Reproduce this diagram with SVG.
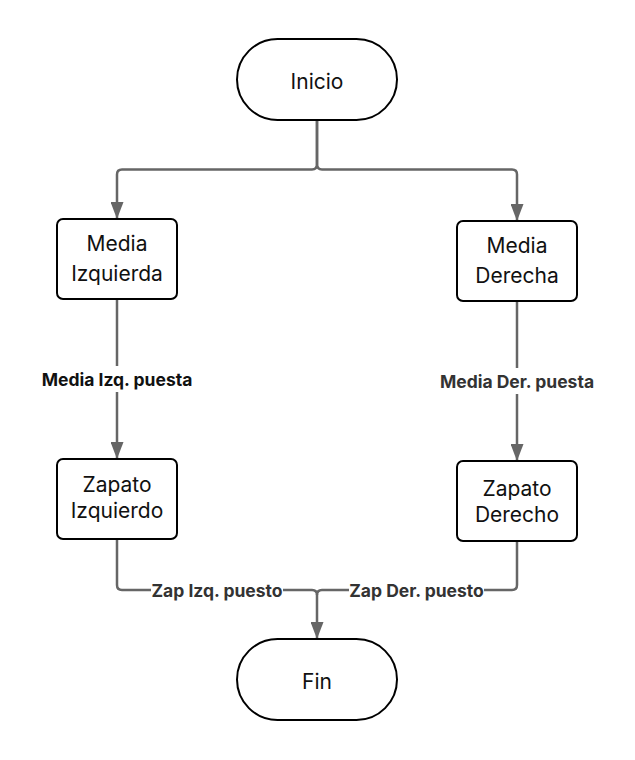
<svg xmlns="http://www.w3.org/2000/svg" width="635" height="760" viewBox="0 0 635 760">
<style>
.node{fill:#fff;stroke:#000;stroke-width:2}
.t{font-family:Inter,"Liberation Sans",sans-serif;font-size:21px;fill:#111;text-anchor:middle}
.edge{fill:none;stroke:#666;stroke-width:2.5}
.lbl{font-family:Inter,"Liberation Sans",sans-serif;font-size:17.5px;font-weight:bold;fill:#333;text-anchor:middle}
.bg{fill:#fff}
</style>
<defs>
<marker id="arr" markerUnits="userSpaceOnUse" viewBox="0 0 17 13" refX="17" refY="6.5" markerWidth="17" markerHeight="13" orient="auto">
<path d="M0,0 L17,6.5 L0,13 z" fill="#666"/>
</marker>
</defs>
<rect width="635" height="760" fill="#fff"/>
<g id="connectors">
<path class="edge" d="M317,120 V164 Q317,169.5 312,169.5 H122 Q117,169.5 117,174.5 V219" marker-end="url(#arr)"/>
<path class="edge" d="M317,120 V164 Q317,169.5 322,169.5 H512 Q517,169.5 517,174.5 V221" marker-end="url(#arr)"/>
<path class="edge" d="M117,299 V459" marker-end="url(#arr)"/>
<path class="edge" d="M517,301 V461" marker-end="url(#arr)"/>
<path class="edge" d="M117,539 V585 Q117,590 122,590 H312 Q317,590 317,595 V639" marker-end="url(#arr)"/>
<path class="edge" d="M517,541 V585 Q517,590 512,590 H322 Q317,590 317,595"/>
<rect class="bg" x="40" y="366" width="154" height="26"/>
<text class="lbl" x="117" y="385.5" style="fill:#111">Media Izq. puesta</text>
<rect class="bg" x="438" y="368" width="158" height="26"/>
<text class="lbl" x="517" y="387.5">Media Der. puesta</text>
<rect class="bg" x="151" y="578" width="132" height="24"/>
<text class="lbl" x="217" y="596.5">Zap Izq. puesto</text>
<rect class="bg" x="349" y="578" width="135" height="24"/>
<text class="lbl" x="416.5" y="596.5">Zap Der. puesto</text>
</g>
<g id="inicio">
<rect class="node" x="237" y="39" width="160" height="81" rx="40.5"/>
<text class="t" x="317" y="88.5">Inicio</text>
</g>
<g id="media-izquierda">
<rect class="node" x="57" y="219" width="120" height="80" rx="6"/>
<text class="t" x="117" y="251">Media</text>
<text class="t" x="117" y="281">Izquierda</text>
</g>
<g id="media-derecha">
<rect class="node" x="457" y="221" width="120" height="80" rx="6"/>
<text class="t" x="517" y="253">Media</text>
<text class="t" x="517" y="283">Derecha</text>
</g>
<g id="zapato-izquierdo">
<rect class="node" x="57" y="459" width="120" height="80" rx="6"/>
<text class="t" x="117" y="492">Zapato</text>
<text class="t" x="117" y="518">Izquierdo</text>
</g>
<g id="zapato-derecho">
<rect class="node" x="457" y="461" width="120" height="80" rx="6"/>
<text class="t" x="517" y="496">Zapato</text>
<text class="t" x="517" y="522">Derecho</text>
</g>
<g id="fin">
<rect class="node" x="237" y="639" width="160" height="81" rx="40.5"/>
<text class="t" x="317" y="688.5">Fin</text>
</g>
</svg>
